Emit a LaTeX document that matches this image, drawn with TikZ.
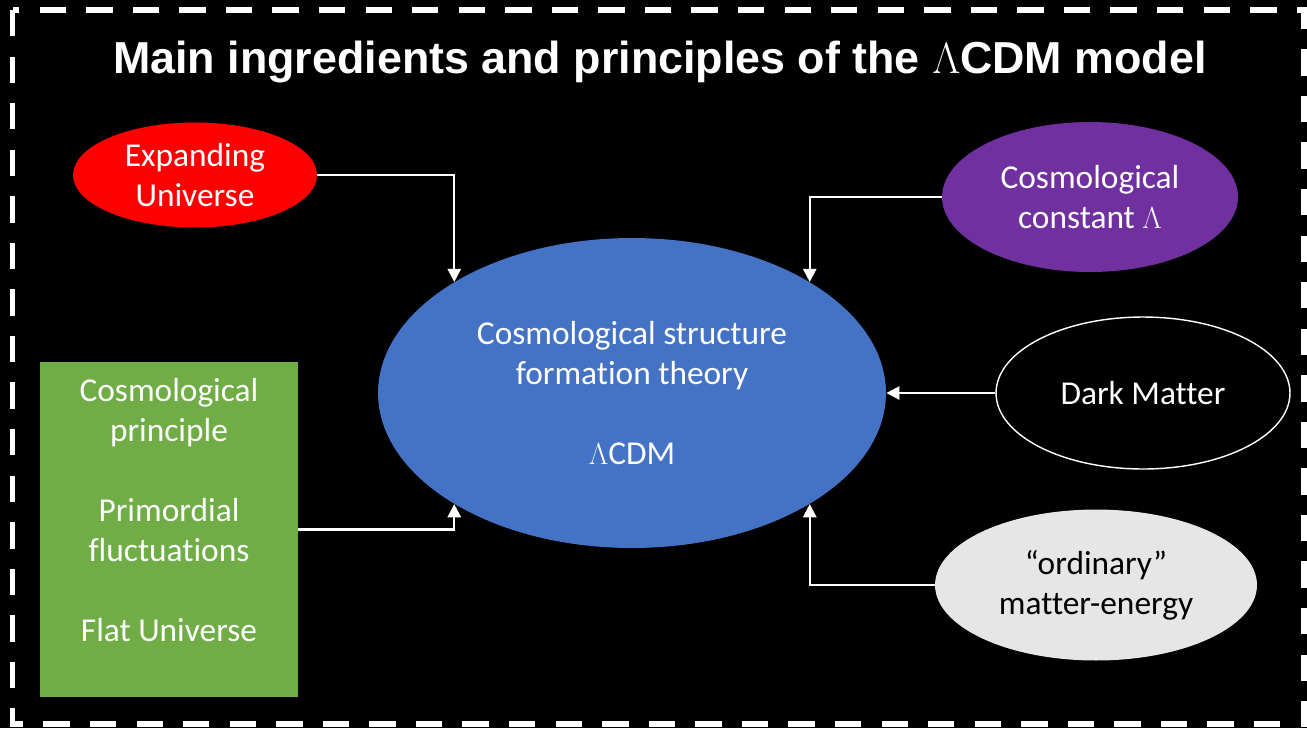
\documentclass[tikz,border=0pt]{standalone}
\usepackage{fontspec}
\setmainfont{Carlito}[Ligatures=NoCommon]
\newfontfamily\titlefont{Liberation Sans}
\usetikzlibrary{shapes.geometric,arrows.meta}
\definecolor{expred}{HTML}{FF0000}
\definecolor{lcdmblue}{HTML}{4472C4}
\definecolor{lambdapurple}{HTML}{7030A0}
\definecolor{princgreen}{HTML}{70AD47}
\definecolor{ordgray}{HTML}{E7E6E6}

\begin{document}
\begin{tikzpicture}[x=0.02cm,y=-0.02cm,
	font=\fontsize{19}{22.7}\selectfont,
	blob/.style={ellipse,inner sep=0pt,align=center,text=white},
	link/.style={white,line width=1.3pt,-{Triangle[width=7.5pt,length=7.5pt]}}]
	\fill[black] (0,0) rectangle (1307,728);
	\draw[white,line width=3.4pt,dash pattern=on 15pt off 11.5pt] (12.5,10) rectangle (1304,724);
	\node[text=white,font=\titlefont\bfseries\fontsize{25.5}{30}\selectfont] (title) at (660,62) {Main ingredients and principles of the $\Lambda$CDM model};

	\node[blob,fill=expred,minimum width=4.88cm,minimum height=2.1cm] (expand) at (195,175) {Expanding\\Universe};
	\node[blob,fill=lambdapurple,minimum width=5.92cm,minimum height=3cm] (lambda) at (1090,197) {Cosmological\\constant $\Lambda$};
	\node[blob,fill=lcdmblue,minimum width=10.16cm,minimum height=6.2cm] (lcdm) at (632,393) {Cosmological structure\\formation theory\\[22.7pt]$\Lambda$CDM};
	\node[blob,fill=black,draw=white,line width=0.8pt,minimum width=5.88cm,minimum height=3.04cm] (dark) at (1143,393) {Dark Matter};
	\node[blob,fill=ordgray,text=black,minimum width=6.44cm,minimum height=3.02cm] (ordinary) at (1096,585) {“ordinary”\\matter-energy};
	\node[fill=princgreen,minimum width=5.16cm,minimum height=6.7cm] (princ) at (169,529.5) {};
	\node[align=center,text=white] (princtext) at (169,510) {Cosmological\\principle\\[22.7pt]Primordial\\fluctuations\\[22.7pt]Flat Universe};

	\draw[link] (expand.east) -| (lcdm.148);
	\draw[link] (princ.east) -| (lcdm.212);
	\draw[link] (lambda.west) -| (lcdm.32);
	\draw[link] (dark.west) -- (lcdm.east);
	\draw[link] (ordinary.west) -| (lcdm.-32);
\end{tikzpicture}
\end{document}
